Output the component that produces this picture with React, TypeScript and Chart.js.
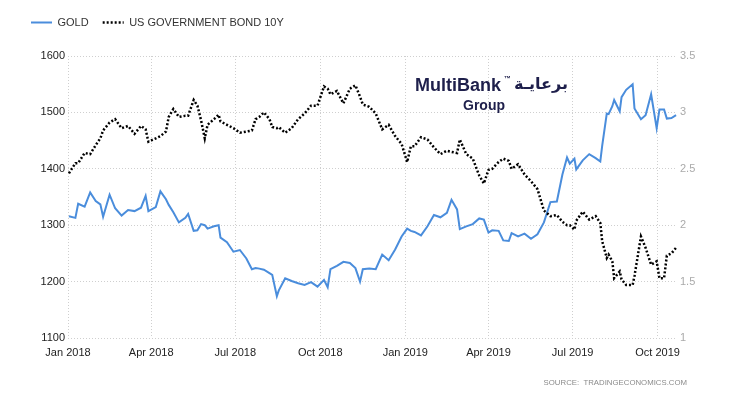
import React, { useEffect, useRef } from 'react';
import { Chart, registerables } from 'chart.js';

Chart.register(...registerables);

const dates = [
  '2018-01-02', '2018-01-09', '2018-01-12', '2018-01-19', '2018-01-25', '2018-01-31', '2018-02-05', '2018-02-08',
  '2018-02-15', '2018-02-21', '2018-02-28', '2018-03-07', '2018-03-14', '2018-03-21', '2018-03-26', '2018-03-29',
  '2018-04-06', '2018-04-11', '2018-04-17', '2018-04-20', '2018-04-25', '2018-05-01', '2018-05-08', '2018-05-11',
  '2018-05-17', '2018-05-21', '2018-05-25', '2018-05-29', '2018-06-01', '2018-06-08', '2018-06-13', '2018-06-15',
  '2018-06-22', '2018-06-29', '2018-07-06', '2018-07-13', '2018-07-19', '2018-07-23', '2018-07-27', '2018-08-01',
  '2018-08-07', '2018-08-10', '2018-08-15', '2018-08-17', '2018-08-24', '2018-08-31', '2018-09-07', '2018-09-14',
  '2018-09-21', '2018-09-28', '2018-10-05', '2018-10-09', '2018-10-12', '2018-10-19', '2018-10-26', '2018-11-02',
  '2018-11-08', '2018-11-13', '2018-11-16', '2018-11-23', '2018-11-30', '2018-12-07', '2018-12-14', '2018-12-21',
  '2018-12-28', '2019-01-03', '2019-01-07', '2019-01-11', '2019-01-18', '2019-01-25', '2019-02-01', '2019-02-08',
  '2019-02-15', '2019-02-20', '2019-02-26', '2019-03-01', '2019-03-08', '2019-03-15', '2019-03-22', '2019-03-27',
  '2019-04-01', '2019-04-05', '2019-04-12', '2019-04-17', '2019-04-23', '2019-04-26', '2019-05-03', '2019-05-10',
  '2019-05-17', '2019-05-24', '2019-05-31', '2019-06-07', '2019-06-14', '2019-06-20', '2019-06-25', '2019-06-28',
  '2019-07-03', '2019-07-05', '2019-07-12', '2019-07-19', '2019-07-26', '2019-07-31', '2019-08-02', '2019-08-07',
  '2019-08-09', '2019-08-13', '2019-08-15', '2019-08-21', '2019-08-23', '2019-08-28', '2019-09-04', '2019-09-06',
  '2019-09-13', '2019-09-18', '2019-09-24', '2019-09-30', '2019-10-03', '2019-10-08', '2019-10-11', '2019-10-16',
  '2019-10-21',
];

const goldValues = [
  1316, 1313, 1338, 1333, 1358, 1343, 1337, 1315,
  1354, 1330, 1317, 1327, 1325, 1331, 1352, 1325,
  1332, 1360, 1346, 1336, 1323, 1305, 1313, 1320,
  1290, 1291, 1302, 1300, 1294, 1298, 1300, 1278,
  1270, 1253, 1256, 1241, 1222, 1224, 1223, 1221,
  1215, 1212, 1174, 1184, 1206, 1201, 1197, 1194,
  1199, 1191, 1203, 1190, 1222, 1228, 1235, 1233,
  1224, 1200, 1222, 1223, 1222, 1248, 1238, 1257,
  1280, 1294, 1290, 1288, 1282, 1298, 1318, 1314,
  1322, 1345, 1328, 1293, 1298, 1302, 1312, 1310,
  1287, 1291, 1290, 1273, 1272, 1286, 1280, 1285,
  1276, 1284, 1305, 1341, 1342, 1390, 1420, 1409,
  1418, 1399, 1415, 1426, 1419, 1413, 1440, 1498,
  1497, 1511, 1522, 1502, 1527, 1540, 1550, 1507,
  1488, 1495, 1532, 1472, 1505, 1505, 1489, 1490,
  1495,
];

const bondValues = [
  2.46, 2.55, 2.55, 2.64, 2.63, 2.71, 2.77, 2.84,
  2.91, 2.94, 2.86, 2.88, 2.81, 2.88, 2.85, 2.74,
  2.77, 2.79, 2.83, 2.96, 3.03, 2.96, 2.97, 2.97,
  3.11, 3.06, 2.93, 2.77, 2.89, 2.94, 2.98, 2.92,
  2.89, 2.86, 2.82, 2.83, 2.84, 2.94, 2.96, 3.0,
  2.94, 2.87, 2.86, 2.87, 2.82, 2.86, 2.94, 2.99,
  3.06, 3.06, 3.23, 3.21, 3.16, 3.19, 3.08, 3.21,
  3.24, 3.14, 3.07, 3.05, 2.99, 2.85, 2.89, 2.79,
  2.72, 2.56, 2.7, 2.7, 2.78, 2.76, 2.69, 2.63,
  2.66, 2.65, 2.64, 2.76, 2.63, 2.59, 2.44, 2.37,
  2.49, 2.5, 2.56, 2.59, 2.57, 2.5, 2.54, 2.45,
  2.39, 2.32, 2.13, 2.08, 2.09, 2.03, 2.0, 2.0,
  1.96, 2.04, 2.12, 2.05, 2.08, 2.02, 1.86, 1.71,
  1.74, 1.68, 1.53, 1.59, 1.52, 1.47, 1.47, 1.55,
  1.9, 1.8, 1.65, 1.68, 1.53, 1.53, 1.73, 1.75,
  1.8,
];

const tickDates = ['2018-01-01', '2018-04-01', '2018-07-01', '2018-10-01', '2019-01-01', '2019-04-01', '2019-07-01', '2019-10-01'];
const tickLabels = ['Jan 2018', 'Apr 2018', 'Jul 2018', 'Oct 2018', 'Jan 2019', 'Apr 2019', 'Jul 2019', 'Oct 2019'];

const seriesLabels = ['GOLD', 'US GOVERNMENT BOND 10Y'];
const leftRange = [1100, 1600];
const rightRange = [1, 3.5];

const START = Date.UTC(2018, 0, 1);
const dayIndex = (s: string) => {
  const [y, m, d] = s.split('-').map(Number);
  return Math.round((Date.UTC(y, m - 1, d) - START) / 86400000);
};

const FONT = 'Arial, "Liberation Sans", sans-serif';

export default function App() {
  const ref = useRef<HTMLCanvasElement>(null);

  useEffect(() => {
    document.body.style.margin = '0';
    const canvas = ref.current!;
    Chart.defaults.font.family = FONT;
    const tickDays = tickDates.map(dayIndex);

    const legendGap = {
      id: 'legendGap',
      beforeLayout(chart: any) {
        const leg = chart.legend;
        if (leg && !leg.__patched) {
          const orig = leg.fit;
          leg.fit = function () {
            orig.call(this);
            this.height += 18;
          };
          leg.__patched = true;
        }
      },
    };

    const chart = new Chart(canvas, {
      type: 'line',
      data: {
        datasets: [
          {
            label: seriesLabels[0],
            data: dates.map((d, i) => ({ x: dayIndex(d), y: goldValues[i] })),
            borderColor: '#4a8ddc',
            backgroundColor: '#4a8ddc',
            borderWidth: 2,
            pointRadius: 0,
            tension: 0,
            yAxisID: 'y',
            order: 1,
          },
          {
            label: seriesLabels[1],
            data: dates.map((d, i) => ({ x: dayIndex(d), y: bondValues[i] })),
            borderColor: '#000000',
            backgroundColor: '#000000',
            borderWidth: 2.5,
            borderDash: [2, 2],
            pointRadius: 0,
            tension: 0,
            yAxisID: 'y1',
            order: 0,
          },
        ],
      },
      options: {
        responsive: false,
        animation: false,
        layout: { padding: { top: 3, left: 17, right: 0, bottom: 0 } },
        plugins: {
          legend: {
            position: 'top',
            align: 'start',
            labels: {
              usePointStyle: true,
              pointStyle: 'line',
              pointStyleWidth: 21,
              padding: 14,
              color: '#333',
              font: { size: 11, family: FONT },
              sort: (a: any, b: any) => a.datasetIndex - b.datasetIndex,
              generateLabels: (c: any) => {
                const items = (Chart.defaults.plugins.legend.labels as any).generateLabels(c);
                items.forEach((it: any) => {
                  const ds = c.data.datasets[it.datasetIndex];
                  it.lineDash = ds.borderDash || [];
                  it.lineWidth = ds.datasetIndex === 1 ? 2.5 : ds.borderWidth;
                  it.strokeStyle = ds.borderColor;
                  it.lineCap = 'butt';
                });
                return items;
              },
            },
          },
          tooltip: { enabled: false },
        },
        scales: {
          x: {
            type: 'linear',
            min: 0,
            max: 659,
            afterBuildTicks: (s: any) => {
              s.ticks = tickDays.map((v) => ({ value: v }));
            },
            afterFit: (s: any) => {
              s.height = 62;
            },
            ticks: {
              autoSkip: false,
              maxRotation: 0,
              padding: 8,
              color: '#222',
              font: { size: 11, family: FONT },
              callback: (v: any) => {
                const i = tickDays.indexOf(v);
                return i >= 0 ? tickLabels[i] : '';
              },
            },
            grid: { color: '#cfcfcf', drawTicks: false },
            border: { display: false, dash: [1, 2] },
          },
          y: {
            position: 'left',
            min: leftRange[0],
            max: leftRange[1],
            afterFit: (s: any) => {
              s.width = 51;
            },
            ticks: {
              stepSize: 100,
              padding: 3,
              color: '#222',
              font: { size: 11, family: FONT },
              callback: (v: any) => String(v),
            },
            grid: { color: '#cfcfcf', drawTicks: false },
            border: { display: false, dash: [1, 2] },
          },
          y1: {
            position: 'right',
            min: rightRange[0],
            max: rightRange[1],
            afterFit: (s: any) => {
              s.width = 53;
            },
            ticks: {
              stepSize: 0.5,
              padding: 3,
              color: '#aaaaaa',
              font: { size: 11, family: FONT },
              callback: (v: any) => String(v),
            },
            grid: { display: false, drawTicks: false },
            border: { display: false },
          },
        },
      },
      plugins: [legendGap],
    } as any);

    return () => chart.destroy();
  }, []);

  const navy = '#1e1f4b';
  return (
    <div style={{ position: 'relative', width: 730, height: 400, background: '#fff' }}>
      <canvas ref={ref} width={730} height={400} style={{ display: 'block', width: 730, height: 400 }} />
      <div style={{ position: 'absolute', left: 415, top: 76, fontFamily: FONT, fontWeight: 'bold', fontSize: 18, lineHeight: '18px', color: navy, whiteSpace: 'nowrap' }}>
        MultiBank
      </div>
      <div style={{ position: 'absolute', left: 504, top: 75, fontFamily: FONT, fontWeight: 'bold', fontSize: 7, lineHeight: '7px', color: navy }}>
        ™
      </div>
      <div dir="rtl" style={{ position: 'absolute', right: 162, top: 73, fontFamily: '"DejaVu Sans", sans-serif', fontWeight: 'bold', fontSize: 16, lineHeight: '22px', color: navy, whiteSpace: 'nowrap' }}>
        برعايـة
      </div>
      <div style={{ position: 'absolute', left: 463, top: 98, fontFamily: FONT, fontWeight: 'bold', fontSize: 14, lineHeight: '14px', color: navy }}>
        Group
      </div>
      <div style={{ position: 'absolute', right: 43, top: 378, fontFamily: FONT, fontSize: 7.8, lineHeight: '10px', color: '#8a8a8a', whiteSpace: 'nowrap' }}>
        SOURCE:&nbsp;&nbsp;TRADINGECONOMICS.COM
      </div>
    </div>
  );
}
